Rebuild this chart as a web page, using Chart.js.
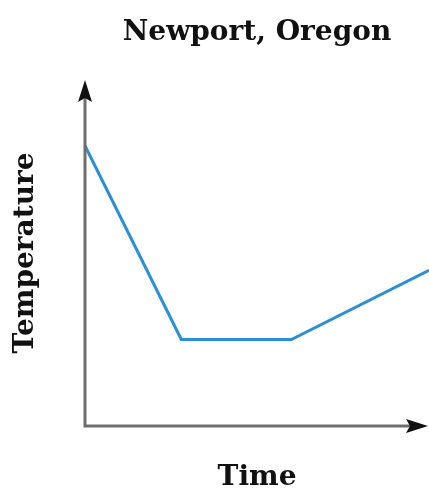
<!DOCTYPE html>
<html lang="en">
<head>
  <meta charset="UTF-8">
  <title>Newport, Oregon</title>
  <script src="https://cdn.jsdelivr.net/npm/chart.js"></script>
  <style>
    html, body { margin: 0; padding: 0; background: #fff; }
    #wrap { width: 429px; height: 497px; }
  </style>
</head>
<body>
  <div id="wrap"><canvas id="chart"></canvas></div>

  <script>
    // sketch graph, no units on the axes
    const time = [0, 2.8, 6, 10];
    const temperature = [8.1, 2.5, 2.5, 4.5];

    const serif = "'DejaVu Serif', 'Liberation Serif', serif";

    // gray axes with black arrowheads
    const arrowAxes = {
      id: "arrowAxes",
      afterDatasetsDraw(chart) {
        const { ctx, chartArea: a } = chart;
        ctx.save();
        ctx.strokeStyle = "#6e6e6e";
        ctx.lineWidth = 3;
        ctx.beginPath();
        ctx.moveTo(a.left, a.top + 12);
        ctx.lineTo(a.left, a.bottom);
        ctx.lineTo(a.right - 12, a.bottom);
        ctx.stroke();

        ctx.fillStyle = "#111";
        // up arrow
        ctx.beginPath();
        ctx.moveTo(a.left, a.top);
        ctx.lineTo(a.left + 7, a.top + 22);
        ctx.lineTo(a.left, a.top + 18);
        ctx.lineTo(a.left - 7, a.top + 22);
        ctx.closePath();
        ctx.fill();
        // right arrow
        const tipX = a.right - 1;
        ctx.beginPath();
        ctx.moveTo(tipX, a.bottom);
        ctx.lineTo(tipX - 22, a.bottom + 7);
        ctx.lineTo(tipX - 18, a.bottom);
        ctx.lineTo(tipX - 22, a.bottom - 7);
        ctx.closePath();
        ctx.fill();
        ctx.restore();
      }
    };

    new Chart(document.getElementById("chart"), {
      type: "line",
      data: {
        datasets: [{
          label: "Temperature",
          data: time.map((t, i) => ({ x: t, y: temperature[i] })),
          borderColor: "#2b8fd8",
          borderWidth: 3,
          pointRadius: 0,
          fill: false,
          tension: 0,
          clip: false
        }]
      },
      options: {
        responsive: true,
        maintainAspectRatio: false,
        animation: false,
        layout: { padding: 0 },
        plugins: {
          legend: { display: false },
          tooltip: { enabled: false },
          title: {
            display: true,
            text: "Newport, Oregon",
            fullSize: false,
            color: "#111",
            font: { family: serif, size: 28, weight: "bold", lineHeight: 1.2 },
            padding: { top: 16, bottom: 30.4 }
          }
        },
        scales: {
          x: {
            type: "linear",
            min: 0,
            max: 10,
            grid: { display: false, drawTicks: false },
            border: { display: false },
            ticks: { display: false },
            title: {
              display: true,
              text: "Time",
              color: "#111",
              font: { family: serif, size: 28, weight: "bold", lineHeight: 1.2 },
              padding: { top: 35.4, bottom: 2 }
            }
          },
          y: {
            min: 0,
            max: 10,
            grid: { display: false, drawTicks: false },
            border: { display: false },
            ticks: { display: false },
            title: {
              display: true,
              text: "Temperature",
              color: "#111",
              font: { family: serif, size: 28, weight: "bold", lineHeight: 1.2 },
              padding: { top: 9, bottom: 42.4 }
            }
          }
        }
      },
      plugins: [arrowAxes]
    });
  </script>
</body>
</html>
